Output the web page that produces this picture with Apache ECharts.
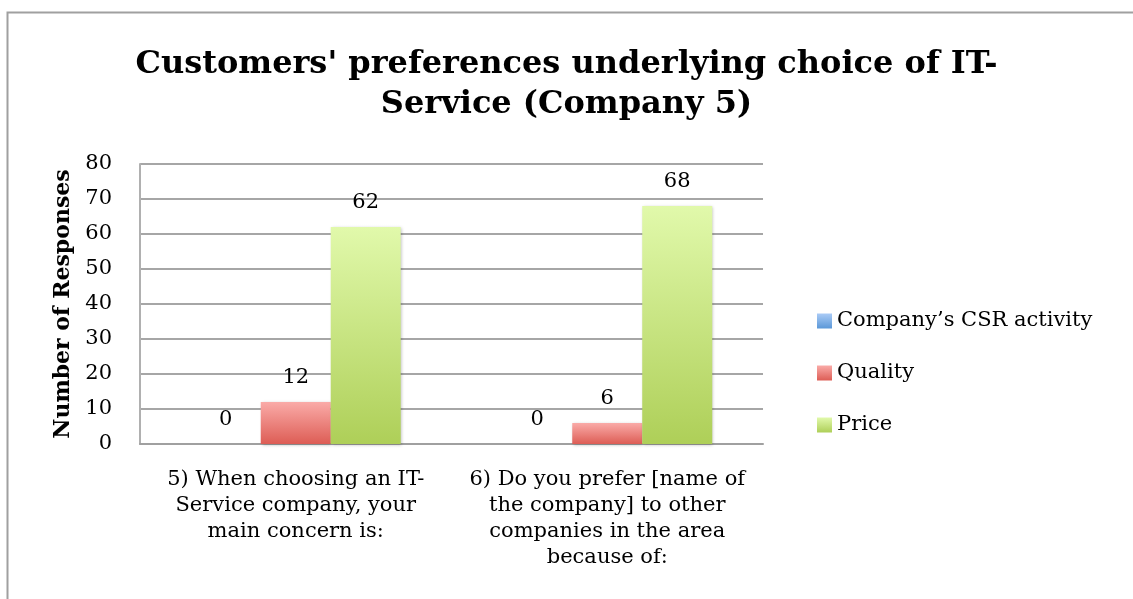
<!DOCTYPE html>
<html>
<head>
<meta charset="utf-8">
<script src="https://cdn.jsdelivr.net/npm/echarts@6/dist/echarts.min.js"></script>
<style>html,body{margin:0;padding:0;background:#fff}#c{width:1133px;height:599px}</style>
</head>
<body>
<div id="c"></div>
<script>
const titleText = "Customers' preferences underlying choice of IT-\nService (Company 5)";
const categories = [
  "5) When choosing an IT-\nService company, your\nmain concern is:",
  "6) Do you prefer [name of\nthe company] to other\ncompanies in the area\nbecause of:"
];
const seriesNames = ["Company\u2019s CSR activity", "Quality", "Price"];
const csrValues = [0, 0];
const qualityValues = [12, 6];
const priceValues = [62, 68];
const yTicks = { min: 0, max: 80, interval: 10 };
const yAxisTitle = "Number of Responses";

const FONT = "DejaVu Serif";
function grad(top, bottom) {
  return new echarts.graphic.LinearGradient(0, 0, 0, 1, [
    { offset: 0, color: top }, { offset: 1, color: bottom }
  ]);
}
const colors = [
  grad('#aacbf6', '#5b98d8'),
  grad('#faaba8', '#dd5d55'),
  grad('#e1f9ab', '#aecf58')
];
const values = [csrValues, qualityValues, priceValues];

const chart = echarts.init(document.getElementById('c'), null, { renderer: 'canvas' });
chart.setOption({
  animation: false,
  backgroundColor: '#fff',
  graphic: [{
    type: 'rect', left: 5, top: 10, z: 100,
    shape: { width: 1300, height: 800 },
    style: { fill: 'none', stroke: '#a0a0a0', lineWidth: 2 }
  }],
  title: {
    text: titleText, left: 'center', top: 40,
    textStyle: { fontFamily: FONT, fontWeight: 'bold', fontSize: 32, lineHeight: 40, color: '#000' }
  },
  legend: {
    orient: 'vertical', left: 812, top: 305,
    itemWidth: 15, itemHeight: 15, itemGap: 30, itemTextGap: 6,
    icon: 'rect',
    textStyle: { fontFamily: FONT, fontSize: 21, lineHeight: 22, color: '#000' },
    data: seriesNames
  },
  grid: { left: 140, right: 370, top: 164, bottom: 155, containLabel: false },
  xAxis: {
    type: 'category', data: categories,
    axisLine: { show: true, lineStyle: { color: '#a0a0a0', width: 2 } },
    axisTick: { show: false },
    axisLabel: { interval: 0, margin: 23, fontFamily: FONT, fontSize: 21, lineHeight: 26, color: '#000' }
  },
  yAxis: {
    type: 'value', min: yTicks.min, max: yTicks.max, interval: yTicks.interval,
    name: yAxisTitle, nameLocation: 'middle', nameGap: 66,
    nameTextStyle: { fontFamily: FONT, fontWeight: 'bold', fontSize: 22, color: '#000' },
    axisLine: { show: true, lineStyle: { color: '#b0b0b0', width: 2 } },
    axisTick: { show: false },
    axisLabel: { margin: 28, fontFamily: FONT, fontSize: 21, color: '#000' },
    splitLine: { show: true, lineStyle: { color: '#a6a6a6', width: 2 } }
  },
  series: seriesNames.map((name, i) => ({
    name, type: 'bar', data: values[i],
    barGap: '0%', barCategoryGap: '32.6%',
    itemStyle: {
      color: colors[i],
      shadowColor: 'rgba(0,0,0,0.25)', shadowBlur: 3, shadowOffsetX: 1, shadowOffsetY: 1
    },
    label: {
      show: true, position: 'top', distance: 14,
      fontFamily: FONT, fontSize: 21, color: '#000'
    }
  }))
});
</script>
</body>
</html>
